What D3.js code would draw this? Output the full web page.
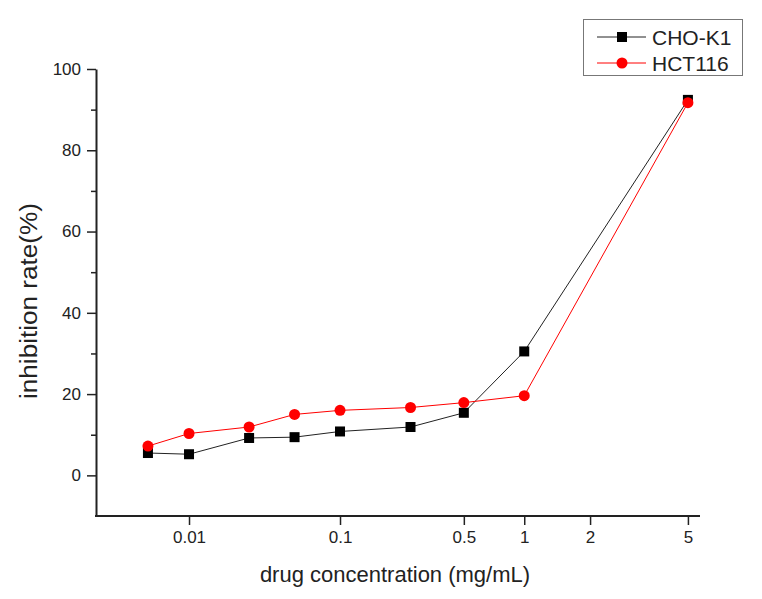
<!DOCTYPE html>
<html>
<head>
<meta charset="utf-8">
<script src="https://cdn.jsdelivr.net/npm/d3@7"></script>
<style>
  html, body { margin: 0; padding: 0; background: #fff; }
  svg { display: block; font-family: Arial, "Liberation Sans", sans-serif; }
</style>
</head>
<body>
<svg id="chart" width="762" height="599"></svg>
<script>
// ---- data ----
const concentrations = [0.005, 0.01, 0.025, 0.05, 0.1, 0.25, 0.5, 1, 5];
const choK1 = [5.5, 5.2, 9.2, 9.4, 10.8, 11.9, 15.4, 30.5, 92.4];
const hct116 = [7.2, 10.3, 11.9, 15.0, 16.0, 16.7, 17.9, 19.6, 91.7];
const seriesNames = ["CHO-K1", "HCT116"];
const xTickValues = [0.01, 0.1, 0.5, 1, 2, 5];
const xTickLabels = ["0.01", "0.1", "0.5", "1", "2", "5"];
const yTickValues = [0, 20, 40, 60, 80, 100];
const yMinorTicks = [10, 30, 50, 70, 90];

(function () {
// ---- layout ----
const svg = d3.select("#chart");
const pLeft = 96, pRight = 700, pTop = 69, pBottom = 516;
const W = pRight - pLeft;

// the original x axis is a non-uniform, log-like axis: piecewise linear on log10
const xStopValues = [0.005].concat(xTickValues);
const xStopFrac = [0.086, 0.154, 0.404, 0.609, 0.709, 0.818, 0.980];
const xl = d3.scaleLinear()
  .domain(xStopValues.map(v => Math.log10(v)))
  .range(xStopFrac.map(f => pLeft + f * W));
const x = v => xl(Math.log10(v));

const y = d3.scaleLinear().domain([-10, 100]).range([pBottom, pTop]);

// ---- axes ----
const yAxis = d3.axisLeft(y).tickValues(yTickValues).tickSize(9).tickPadding(6).tickSizeOuter(0);
const gy = svg.append("g").attr("transform", `translate(${pLeft},0)`).call(yAxis);
gy.select(".domain").attr("stroke", "#222").attr("stroke-width", 2);
gy.selectAll(".tick line").attr("stroke", "#222").attr("stroke-width", 1.5);
gy.selectAll(".tick text").attr("font-size", 17).attr("fill", "#222")
  .attr("font-family", "Arial, 'Liberation Sans', sans-serif");
const yMinor = d3.axisLeft(y).tickValues(yMinorTicks).tickSize(5).tickFormat("").tickSizeOuter(0);
const gym = svg.append("g").attr("transform", `translate(${pLeft},0)`).call(yMinor);
gym.select(".domain").remove();
gym.selectAll(".tick line").attr("stroke", "#222").attr("stroke-width", 1.5);

const xAxis = d3.axisBottom(xl)
  .tickValues(xTickValues.map(v => Math.log10(v)))
  .tickFormat((d, i) => xTickLabels[i])
  .tickSize(9).tickPadding(6).tickSizeOuter(0);
const gx = svg.append("g").attr("transform", `translate(0,${pBottom})`).call(xAxis);
gx.select(".domain").attr("d", `M${pLeft - 1},0H${pRight}`).attr("stroke", "#222").attr("stroke-width", 2);
gx.selectAll(".tick line").attr("stroke", "#222").attr("stroke-width", 1.5);
gx.selectAll(".tick text").attr("font-size", 17).attr("fill", "#222")
  .attr("font-family", "Arial, 'Liberation Sans', sans-serif");

// ---- axis titles ----
svg.append("text")
  .attr("x", 395).attr("y", 582)
  .attr("text-anchor", "middle")
  .attr("font-size", 22).attr("fill", "#222")
  .text("drug concentration (mg/mL)");
svg.append("text")
  .attr("transform", "translate(37,301) rotate(-90)")
  .attr("text-anchor", "middle")
  .attr("font-size", 23).attr("fill", "#222")
  .attr("textLength", 196).attr("lengthAdjust", "spacingAndGlyphs")
  .text("inhibition rate(%)");

// ---- series ----
const line = d3.line().x(d => x(d[0])).y(d => y(d[1]));
const dataBlack = concentrations.map((c, i) => [c, choK1[i]]);
const dataRed = concentrations.map((c, i) => [c, hct116[i]]);

svg.append("path").datum(dataBlack).attr("d", line)
  .attr("fill", "none").attr("stroke", "#222").attr("stroke-width", 1);
svg.append("g").selectAll("rect").data(dataBlack).join("rect")
  .attr("x", d => x(d[0]) - 5).attr("y", d => y(d[1]) - 5)
  .attr("width", 10).attr("height", 10).attr("fill", "#000");

svg.append("path").datum(dataRed).attr("d", line)
  .attr("fill", "none").attr("stroke", "#ff0000").attr("stroke-width", 1);
svg.append("g").selectAll("circle").data(dataRed).join("circle")
  .attr("cx", d => x(d[0])).attr("cy", d => y(d[1]))
  .attr("r", 5.5).attr("fill", "#ff0000");

// ---- legend ----
const lg = svg.append("g");
lg.append("rect").attr("x", 583.5).attr("y", 19.5).attr("width", 159).attr("height", 56)
  .attr("fill", "#fff").attr("stroke", "#777").attr("stroke-width", 1);
const legendRows = [
  { name: seriesNames[0], color: "#222", fill: "#000", shape: "square", cy: 37 },
  { name: seriesNames[1], color: "#ff0000", fill: "#ff0000", shape: "circle", cy: 63 }
];
legendRows.forEach(r => {
  lg.append("line").attr("x1", 597).attr("x2", 646).attr("y1", r.cy).attr("y2", r.cy)
    .attr("stroke", r.color).attr("stroke-width", 1);
  if (r.shape === "square") {
    lg.append("rect").attr("x", 617).attr("y", r.cy - 5).attr("width", 10).attr("height", 10).attr("fill", r.fill);
  } else {
    lg.append("circle").attr("cx", 622).attr("cy", r.cy).attr("r", 5.5).attr("fill", r.fill);
  }
  lg.append("text").attr("x", 652).attr("y", r.cy + 7.5)
    .attr("font-size", 21).attr("fill", "#222").text(r.name);
});
})();
</script>
</body>
</html>
